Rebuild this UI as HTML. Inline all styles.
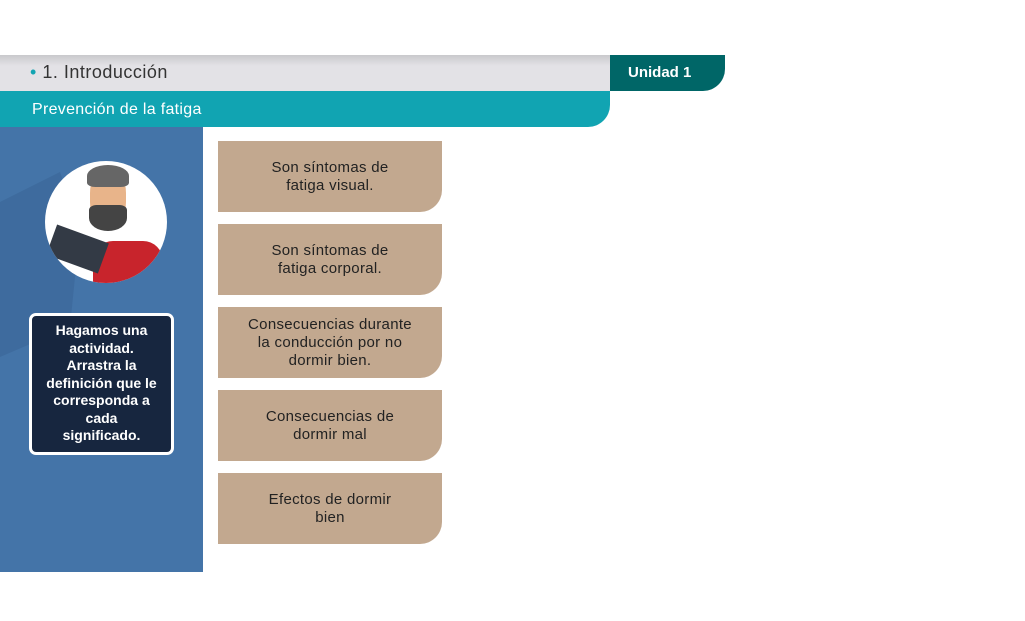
<!DOCTYPE html>
<html><head><style>
body{margin:0;width:1025px;height:621px;background:#fff;position:relative;overflow:hidden;font-family:"Liberation Sans",sans-serif}
.a{position:absolute}
.card{position:absolute;left:218px;width:224px;height:71px;background:#c2a88f;border-bottom-right-radius:22px;display:flex;align-items:center;justify-content:center;text-align:center;font-size:15px;color:#222;line-height:18px;letter-spacing:.3px}
</style></head><body>
<div class="a" style="left:0;top:55px;width:612px;height:36px;background:linear-gradient(#c9c9cc,#e3e2e6 30%);"></div>
<div class="a" style="left:30px;top:62px;font-size:18px;color:#333;letter-spacing:.5px"><span style="color:#12a4b2">•</span> 1. Introducción</div>
<div class="a" style="left:610px;top:55px;width:115px;height:36px;background:#006667;border-bottom-right-radius:22px;color:#fff;font-size:15px;font-weight:bold;line-height:36px;text-indent:18px">Unidad 1</div>
<div class="a" style="left:0;top:91px;width:610px;height:36px;background:#11a4b2;border-bottom-right-radius:22px;color:#fff;font-size:16px;line-height:38px;text-indent:32px;letter-spacing:.3px">Prevención de la fatiga</div>
<div class="a" style="left:0;top:127px;width:203px;height:445px;background:#4474a8"></div>
<svg class="a" style="left:0;top:127px" width="203" height="445"><polygon points="0,75 60,45 80,100 70,200 0,230" fill="#3a6698" opacity=".6"/></svg>
<div class="a" style="left:45px;top:161px;width:122px;height:122px;border-radius:50%;background:#fff;overflow:hidden">
<div class="a" style="left:48px;top:80px;width:70px;height:50px;background:#c8242c;border-radius:20px 20px 0 0"></div>
<div class="a" style="left:45px;top:8px;width:36px;height:60px;background:#e8b48a;border-radius:40% 40% 45% 45%"></div>
<div class="a" style="left:42px;top:4px;width:42px;height:22px;background:#666;border-radius:50% 50% 20% 20%"></div>
<div class="a" style="left:44px;top:44px;width:38px;height:26px;background:#444;border-radius:20% 20% 50% 50%"></div>
<div class="a" style="left:5px;top:72px;width:55px;height:32px;background:#333a45;transform:rotate(20deg)"></div>
</div>
<div class="a" style="left:29px;top:313px;width:139px;height:130px;background:#17263f;border:3px solid #fff;border-radius:7px;color:#fff;font-weight:bold;font-size:14px;line-height:17.5px;text-align:center;padding-top:6px;box-sizing:content-box">Hagamos una<br>actividad.<br>Arrastra la<br>definición que le<br>corresponda a<br>cada<br>significado.</div>
<div class="card" style="top:141px">Son síntomas de<br>fatiga visual.</div>
<div class="card" style="top:224px">Son síntomas de<br>fatiga corporal.</div>
<div class="card" style="top:307px">Consecuencias durante<br>la conducción por no<br>dormir bien.</div>
<div class="card" style="top:390px">Consecuencias de<br>dormir mal</div>
<div class="card" style="top:473px">Efectos de dormir<br>bien</div>
</body></html>
